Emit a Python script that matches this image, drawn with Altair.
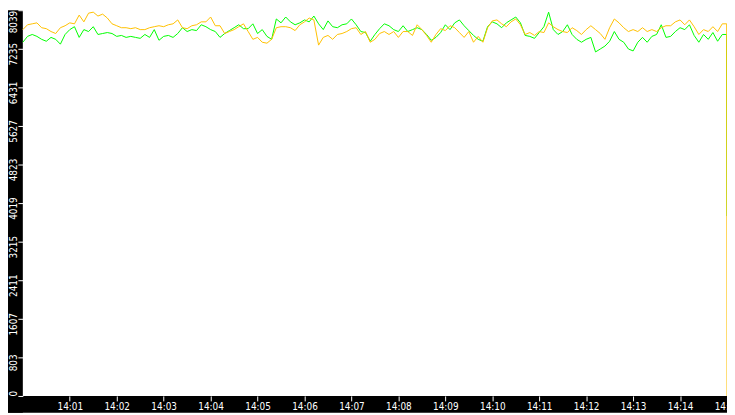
import altair as alt
import pandas as pd

# ---- data (6-second samples, 14:00:00 .. 14:14:54) ----
green = [
    7372, 7494, 7534, 7494, 7433, 7393, 7473, 7433, 7332, 7534,
    7635, 7696, 7473, 7635, 7595, 7696, 7534, 7554, 7574, 7554,
    7494, 7514, 7473, 7494, 7473, 7453, 7534, 7473, 7635, 7413,
    7494, 7514, 7473, 7554, 7675, 7595, 7635, 7615, 7736, 7696,
    7635, 7595, 7473, 7554, 7615, 7675, 7736, 7655,
    7655, 7756, 7554, 7635, 7494, 7433, 7857, 7776, 7898, 7797,
    7736, 7776, 7837, 7797, 7918, 7756, 7635, 7817, 7696, 7675,
    7736, 7756, 7857, 7736, 7595, 7574, 7393, 7534, 7655, 7756,
    7716, 7635, 7595, 7716, 7595, 7635, 7675,
    7635, 7534, 7413, 7473, 7574, 7736, 7635, 7776, 7837, 7716,
    7615, 7514, 7433, 7393, 7696, 7797, 7756, 7675, 7776, 7837,
    7898, 7776, 7514, 7494, 7453, 7574, 7696, 7999, 7635, 7534,
    7595, 7736, 7534, 7433, 7372, 7433, 7473, 7170, 7231,
    7292, 7393, 7595, 7433, 7372, 7231, 7191, 7372, 7473, 7372,
    7494, 7534, 7736, 7473, 7494, 7595, 7675, 7635, 7736, 7514,
    7372, 7534, 7433, 7574, 7393, 7534,
]
orange = [
    7635, 7736, 7756, 7776, 7675, 7655, 7595, 7554, 7675, 7716,
    7776, 7756, 7938, 7797, 7978, 7999, 7918, 7958, 7877, 7756,
    7716, 7675, 7675, 7655, 7675, 7635, 7635, 7675, 7696, 7716,
    7696, 7736, 7756, 7837, 7675, 7655, 7716, 7736, 7797, 7797,
    7898, 7716, 7716, 7554, 7595, 7635, 7696, 7756,
    7595, 7433, 7473, 7372, 7352, 7433, 7675, 7696, 7696, 7675,
    7615, 7736, 7797, 7877, 7837, 7312, 7473, 7514, 7433, 7534,
    7554, 7595, 7655, 7675, 7534, 7595, 7372, 7433, 7554, 7595,
    7534, 7595, 7473, 7595, 7595, 7514, 7736,
    7635, 7514, 7372, 7534, 7655, 7615, 7716, 7675, 7574, 7473,
    7595, 7372, 7494, 7372, 7675, 7817, 7837, 7756, 7696, 7797,
    7857, 7736, 7534, 7574, 7514, 7595, 7574, 7776, 7696, 7635,
    7595, 7574, 7675, 7615, 7534, 7635, 7716, 7635, 7554,
    7433, 7675, 7857, 7776, 7675, 7595, 7635, 7595, 7675, 7595,
    7635, 7595, 7675, 7716, 7716, 7797, 7837, 7736, 7837, 7696,
    7534, 7635, 7595, 7696, 7595, 7756,
]
# value read at the very right edge just before the drop, then the final drop values
green_edge, orange_edge = 7534, 7756
green_end, orange_end = 3750, 0

y_ticks = [0, 803, 1607, 2411, 3215, 4019, 4823, 5627, 6431, 7235, 8039]
x_tick_minutes = list(range(1, 16))

times = list(pd.date_range("2024-01-01 14:00:00", periods=len(green), freq="6s"))
times += [pd.Timestamp("2024-01-01 14:14:59.6"), pd.Timestamp("2024-01-01 14:15:00")]

df_g = pd.DataFrame({"t": times, "v": green + [green_edge, green_end]})
df_o = pd.DataFrame({"t": times, "v": orange + [orange_edge, orange_end]})

FONT = "DejaVu Sans Condensed, DejaVu Sans"
W, H = 712, 390
LEFT, BOTTOM = 15, 17

x_enc = alt.X(
    "t:T",
    scale=alt.Scale(domain=[alt.DateTime(year=2024, month=1, date=1, hours=14, minutes=0),
                            alt.DateTime(year=2024, month=1, date=1, hours=14, minutes=15)]),
    axis=alt.Axis(
        values=[alt.DateTime(year=2024, month=1, date=1, hours=14, minutes=m) for m in x_tick_minutes],
        format="%H:%M", title=None, grid=False, domain=False,
        tickColor="white", tickSize=5, tickWidth=1,
        labelColor="white", labelFont=FONT, labelFontSize=10, labelPadding=1,
        labelFlush=False, labelOverlap=False, labelBound=False, zindex=1,
    ),
)
y_enc = alt.Y(
    "v:Q",
    scale=alt.Scale(domain=[0, 8039], nice=False, zero=True),
    axis=alt.Axis(
        values=y_ticks, format="d", title=None, grid=False, domain=False,
        tickColor="white", tickSize=5, tickWidth=1,
        labelColor="white", labelFont=FONT, labelFontSize=10, labelPadding=1,
        labelAngle=270,
        labelAlign={"expr": "datum.value == 0 ? 'left' : (datum.value >= 8039 ? 'right' : 'center')"},
        labelOffset={"expr": "(datum.value == 0 || datum.value >= 8039) ? 0 : 5"},
        labelBaseline="alphabetic",
        labelFlush=False, labelOverlap=False, labelBound=False, zindex=1,
    ),
)

band_src = alt.Chart(pd.DataFrame({"band": ["left", "bottom"]}))
left_band = band_src.transform_filter(alt.datum.band == "left").mark_rect(color="black").encode(
    x=alt.value(-LEFT), x2=alt.value(0), y=alt.value(0), y2=alt.value(H + BOTTOM)
)
bottom_band = band_src.transform_filter(alt.datum.band == "bottom").mark_rect(color="black").encode(
    x=alt.value(-LEFT), x2=alt.value(W), y=alt.value(H), y2=alt.value(H + BOTTOM)
)

g_line = alt.Chart(df_g).mark_line(color="#00FF00", strokeWidth=1).encode(x=x_enc, y=y_enc)
o_line = alt.Chart(df_o).mark_line(color="#FFC000", strokeWidth=1).encode(x=x_enc, y=y_enc)

chart = (
    alt.layer(left_band, bottom_band, g_line, o_line)
    .properties(
        width=W,
        height=H,
        autosize=alt.AutoSizeParams(type="none"),
        padding={"left": LEFT, "top": 0, "right": 0, "bottom": BOTTOM},
    )
    .configure(background="white")
    .configure_view(fill="white", stroke="transparent")
)

chart.save("out.html", embed_options={"renderer": "svg", "actions": False})
